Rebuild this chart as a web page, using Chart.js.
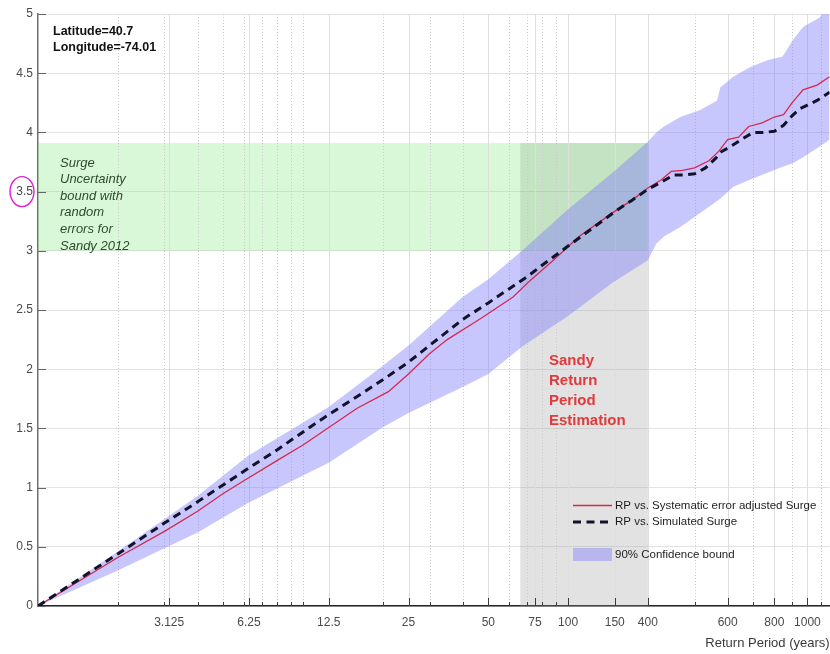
<!DOCTYPE html>
<html>
<head>
<meta charset="utf-8">
<script src="https://cdn.jsdelivr.net/npm/chart.js@4.4.1/dist/chart.umd.min.js"></script>
<style>
  html, body { margin: 0; padding: 0; background: #ffffff; }
  #wrap { width: 830px; height: 654px; }
</style>
</head>
<body>
<div id="wrap"><canvas id="c" width="830" height="654"></canvas></div>
<script>
// Return period (years) and surge height for the simulated series
const simRP    = [1, 2, 3, 4, 6, 8, 10, 12, 16, 20, 25, 30, 40, 50, 60, 70, 80, 100, 120, 150, 175, 200, 225, 250, 275, 300, 330, 360, 380, 410, 450, 500, 550, 600, 650, 700, 750, 800, 870, 970];
const simSurge = [0, 0.44, 0.70, 0.88, 1.14, 1.32, 1.47, 1.59, 1.77, 1.91, 2.06, 2.20, 2.42, 2.56, 2.68, 2.78, 2.88, 3.04, 3.17, 3.33, 3.43, 3.52, 3.58, 3.64, 3.64, 3.65, 3.70, 3.78, 3.84, 3.88, 3.94, 4.00, 4.00, 4.01, 4.06, 4.14, 4.20, 4.23, 4.27, 4.34];

// Systematic-error adjusted surge
const adjRP    = [1, 2, 3, 4, 5, 6, 8, 10, 12, 16, 21, 25, 30, 35, 47, 62, 72, 88, 110, 147, 175, 200, 225, 245, 270, 300, 340, 370, 400, 440, 480, 540, 600, 650, 700, 770, 870, 970];
const adjSurge = [0, 0.41, 0.63, 0.80, 0.95, 1.06, 1.23, 1.36, 1.48, 1.67, 1.81, 1.96, 2.13, 2.25, 2.43, 2.61, 2.75, 2.92, 3.12, 3.32, 3.43, 3.53, 3.60, 3.67, 3.68, 3.70, 3.76, 3.84, 3.94, 3.96, 4.05, 4.08, 4.13, 4.15, 4.25, 4.36, 4.40, 4.47];

// 90% confidence bound
const bandRP   = [1, 2, 4, 6.2, 12.5, 20, 25, 40, 50, 67, 100, 147, 200, 215, 230, 265, 315, 365, 375, 420, 485, 565, 645, 705, 770, 890, 970];
const bandHigh = [0, 0.46, 0.93, 1.27, 1.68, 2.03, 2.20, 2.61, 2.76, 3.00, 3.35, 3.66, 3.92, 4.00, 4.05, 4.13, 4.19, 4.27, 4.38, 4.47, 4.55, 4.61, 4.64, 4.78, 4.89, 4.97, 5.10];
const bandLow  = [0, 0.30, 0.62, 0.87, 1.21, 1.51, 1.63, 1.85, 1.96, 2.19, 2.45, 2.73, 2.92, 3.06, 3.12, 3.20, 3.32, 3.42, 3.44, 3.54, 3.60, 3.66, 3.71, 3.74, 3.79, 3.88, 3.94];

// Sandy 2012 estimation window
const sandyRP    = [66, 200];
const sandySurge = [3.0, 3.91];

// Axis ticks
const xMajorTicks = [3.125, 6.25, 12.5, 25, 50, 75, 100, 150, 200, 400, 600, 800];
const xTickLabels = ['3.125', '6.25', '12.5', '25', '50', '75', '100', '150', '400', '600', '800', '1000'];
const xMinorTicks = [2, 3, 4, 5, 6, 7, 8, 9, 10, 20, 30, 40, 60, 70, 80, 90, 300, 500, 700, 900];
const yTicks = [0, 0.5, 1, 1.5, 2, 2.5, 3, 3.5, 4, 4.5, 5];

const FONT = "'Liberation Sans', Arial, Helvetica, sans-serif";
const zip = (xs, ys) => xs.map((v, i) => ({ x: v, y: ys[i] }));
const labelFor = new Map(xMajorTicks.map((v, i) => [v, xTickLabels[i]]));

const decor = {
  id: 'decor',
  beforeDatasetsDraw(chart) {
    const { ctx, chartArea: a, scales: { x, y } } = chart;
    ctx.save();
    ctx.beginPath();
    ctx.rect(a.left, a.top, a.right - a.left, a.bottom - a.top);
    ctx.clip();

    // grey estimation window
    const gx0 = x.getPixelForValue(sandyRP[0]);
    const gx1 = x.getPixelForValue(sandyRP[1]);
    const gyTop = y.getPixelForValue(sandySurge[1]);
    const gyBot = y.getPixelForValue(0);
    ctx.fillStyle = 'rgba(150,150,150,0.28)';
    ctx.fillRect(gx0, gyTop, gx1 - gx0, gyBot - gyTop);

    // green surge uncertainty band
    const gyLow = y.getPixelForValue(sandySurge[0]);
    ctx.fillStyle = 'rgba(120,230,110,0.28)';
    ctx.fillRect(a.left, gyTop, gx1 - a.left, gyLow - gyTop);

    // vertical grid: dotted minor, solid major
    ctx.lineWidth = 1;
    ctx.strokeStyle = '#c9c9c9';
    ctx.setLineDash([1, 2]);
    xMinorTicks.forEach(v => {
      const px = Math.round(x.getPixelForValue(v)) + 0.5;
      ctx.beginPath(); ctx.moveTo(px, a.top); ctx.lineTo(px, a.bottom); ctx.stroke();
    });
    ctx.setLineDash([]);
    ctx.strokeStyle = '#dedede';
    xMajorTicks.forEach(v => {
      const px = Math.round(x.getPixelForValue(v)) + 0.5;
      ctx.beginPath(); ctx.moveTo(px, a.top); ctx.lineTo(px, a.bottom); ctx.stroke();
    });
    ctx.restore();
  },
  afterDraw(chart) {
    const { ctx, chartArea: a, scales: { x, y } } = chart;
    ctx.save();

    // inward tick marks
    ctx.strokeStyle = '#3a3a3a';
    ctx.lineWidth = 1;
    xMajorTicks.forEach(v => {
      const px = Math.round(x.getPixelForValue(v)) + 0.5;
      ctx.beginPath(); ctx.moveTo(px, a.bottom); ctx.lineTo(px, a.bottom - 8); ctx.stroke();
    });
    xMinorTicks.forEach(v => {
      const px = Math.round(x.getPixelForValue(v)) + 0.5;
      ctx.beginPath(); ctx.moveTo(px, a.bottom); ctx.lineTo(px, a.bottom - 4); ctx.stroke();
    });
    ctx.strokeStyle = '#666666';
    yTicks.forEach(v => {
      const py = Math.round(y.getPixelForValue(v)) + 0.5;
      ctx.beginPath(); ctx.moveTo(a.left, py); ctx.lineTo(a.left + 8, py); ctx.stroke();
    });

    // location text
    ctx.fillStyle = '#111111';
    ctx.textBaseline = 'middle';
    ctx.textAlign = 'left';
    ctx.font = `bold 12.5px ${FONT}`;
    ctx.fillText('Latitude=40.7', 53, 32);
    ctx.fillText('Longitude=-74.01', 53, 48);

    // surge band note
    ctx.fillStyle = '#2f4a2f';
    ctx.font = `italic 13px ${FONT}`;
    ['Surge', 'Uncertainty', 'bound with', 'random', 'errors for', 'Sandy 2012']
      .forEach((t, i) => ctx.fillText(t, 60, 163 + i * 16.6));

    // estimation note
    ctx.fillStyle = '#e03a3a';
    ctx.font = `bold 15px ${FONT}`;
    ['Sandy', 'Return', 'Period', 'Estimation']
      .forEach((t, i) => ctx.fillText(t, 549, 361 + i * 20));

    // legend
    ctx.font = `11.5px ${FONT}`;
    ctx.fillStyle = '#1e1e1e';
    ctx.strokeStyle = '#d42a4e';
    ctx.lineWidth = 1.3;
    ctx.beginPath(); ctx.moveTo(573, 505.5); ctx.lineTo(612, 505.5); ctx.stroke();
    ctx.fillText('RP vs. Systematic error adjusted Surge', 615, 506);
    ctx.strokeStyle = '#12122a';
    ctx.lineWidth = 3;
    ctx.setLineDash([8, 5.5]);
    ctx.beginPath(); ctx.moveTo(573, 522); ctx.lineTo(612, 522); ctx.stroke();
    ctx.setLineDash([]);
    ctx.fillText('RP vs. Simulated Surge', 615, 522);
    ctx.fillStyle = 'rgba(130,130,250,0.45)';
    ctx.fillRect(573, 548, 39, 13);
    ctx.fillStyle = '#1e1e1e';
    ctx.fillText('90% Confidence bound', 615, 555);

    // highlight ring around the 3.5 label
    const ry = y.getPixelForValue(3.5);
    ctx.strokeStyle = '#e020d8';
    ctx.lineWidth = 1.4;
    ctx.beginPath();
    ctx.ellipse(22, ry, 12, 15, 0, 0, Math.PI * 2);
    ctx.stroke();

    ctx.restore();
  }
};

new Chart(document.getElementById('c'), {
  type: 'line',
  data: {
    datasets: [
      {
        label: 'RP vs. Simulated Surge',
        data: zip(simRP, simSurge),
        borderColor: '#12122a',
        borderWidth: 3,
        borderDash: [8, 5.5],
        pointRadius: 0,
        fill: false,
        order: 0
      },
      {
        label: 'RP vs. Systematic error adjusted Surge',
        data: zip(adjRP, adjSurge),
        borderColor: '#d42a4e',
        borderWidth: 1.3,
        pointRadius: 0,
        fill: false,
        order: 1
      },
      {
        label: 'lower bound',
        data: zip(bandRP, bandLow),
        borderWidth: 0,
        borderColor: 'rgba(0,0,0,0)',
        pointRadius: 0,
        fill: false,
        order: 3
      },
      {
        label: '90% Confidence bound',
        data: zip(bandRP, bandHigh),
        borderWidth: 0,
        borderColor: 'rgba(0,0,0,0)',
        backgroundColor: 'rgba(130,130,250,0.45)',
        pointRadius: 0,
        fill: '-1',
        order: 2
      }
    ]
  },
  options: {
    responsive: false,
    animation: false,
    devicePixelRatio: 1,
    layout: { padding: { top: 14, right: 0, bottom: 0, left: 0 } },
    plugins: { legend: { display: false }, tooltip: { enabled: false } },
    elements: { line: { tension: 0 } },
    scales: {
      x: {
        type: 'logarithmic',
        min: 1,
        max: 970,
        afterBuildTicks(scale) {
          const all = [...xMinorTicks, ...xMajorTicks].sort((p, q) => p - q);
          scale.ticks = all.map(v => ({ value: v }));
        },
        afterFit(scale) { scale.height = 48; },
        grid: { color: 'rgba(0,0,0,0)', drawTicks: false },
        border: { display: true, color: '#262626', width: 1.5 },
        ticks: {
          autoSkip: false,
          maxRotation: 0,
          padding: 9,
          color: '#4a4a4a',
          font: { family: FONT, size: 12 },
          callback: (v) => labelFor.has(v) ? labelFor.get(v) : ''
        },
        title: {
          display: true,
          text: 'Return Period (years)',
          align: 'end',
          color: '#3a3a3a',
          font: { family: FONT, size: 13 },
          padding: { top: 0, bottom: 3 }
        }
      },
      y: {
        min: 0,
        max: 5,
        afterBuildTicks(scale) { scale.ticks = yTicks.map(v => ({ value: v })); },
        afterFit(scale) { scale.width = 38; },
        grid: { color: '#e3e3e3', drawTicks: false },
        border: { display: true, color: '#6f6f6f', width: 1.5 },
        ticks: {
          padding: 5,
          color: '#4a4a4a',
          font: { family: FONT, size: 12 },
          callback: (v) => String(v)
        }
      }
    }
  },
  plugins: [decor]
});
</script>
</body>
</html>
